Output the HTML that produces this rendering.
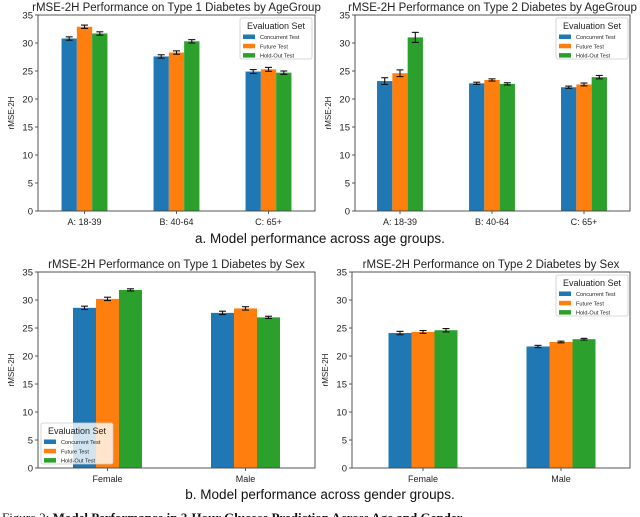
<!DOCTYPE html>
<html><head><meta charset="utf-8"><style>
body{margin:0;background:#fff;width:640px;height:517px;overflow:hidden;font-family:"Liberation Sans","DejaVu Sans",sans-serif}
svg{display:block}
</style></head><body>
<svg id="fig" width="640" height="517" viewBox="0 0 640 517" xmlns="http://www.w3.org/2000/svg">
<text x="320" y="243" text-anchor="middle" font-size="13.5" fill="#111">a. Model performance across age groups.</text>
<text x="320" y="499" text-anchor="middle" font-size="13.5" fill="#111">b. Model performance across gender groups.</text>
<text x="2" y="522" font-family="Liberation Serif,serif" font-size="13" fill="#111">Figure 2: <tspan font-weight="bold">Model Performance in 2-Hour Glucose Prediction Across Age and Gender</tspan></text>
</svg>
<script>
const seriesNames = ["Concurrent Test","Future Test","Hold-Out Test"];
const colors = ["#1f77b4","#ff7f0e","#2ca02c"];
const yTicks = [0,5,10,15,20,25,30,35];

const c1Categories = ["A: 18-39","B: 40-64","C: 65+"];
const c1Concurrent = [30.8,27.6,24.9];
const c1Future = [32.9,28.3,25.3];
const c1Holdout = [31.7,30.3,24.7];
const c1Err = [[0.3,0.3,0.35],[0.3,0.3,0.35],[0.3,0.3,0.3]];

const c2Categories = ["A: 18-39","B: 40-64","C: 65+"];
const c2Concurrent = [23.2,22.8,22.1];
const c2Future = [24.6,23.4,22.6];
const c2Holdout = [31.0,22.7,23.9];
const c2Err = [[0.6,0.2,0.2],[0.6,0.2,0.25],[0.9,0.2,0.3]];

const c3Categories = ["Female","Male"];
const c3Concurrent = [28.6,27.7];
const c3Future = [30.2,28.5];
const c3Holdout = [31.8,26.9];
const c3Err = [[0.3,0.3],[0.3,0.3],[0.2,0.2]];

const c4Categories = ["Female","Male"];
const c4Concurrent = [24.1,21.7];
const c4Future = [24.3,22.5];
const c4Holdout = [24.6,23.0];
const c4Err = [[0.3,0.2],[0.25,0.15],[0.3,0.15]];

const NS="http://www.w3.org/2000/svg";
const svg=document.getElementById('fig');
function mk(tag,attrs,parent){const e=document.createElementNS(NS,tag);for(const k in attrs)e.setAttribute(k,attrs[k]);(parent||svg).appendChild(e);return e;}

function chart(cfg){
  const g=mk('g',{});
  
  
  const {x0,x1,y0,y1}=cfg;
  const ymax=35;
  const yS=v=>y1-(v/ymax)*(y1-y0);
  const n=cfg.cats.length;
  const xS=i=>cfg.c0+i*cfg.step;
  const series=[cfg.s0,cfg.s1,cfg.s2];
  const t=mk('text',{x:(x0+x1)/2,y:y0-4,'text-anchor':'middle','font-size':11.5,fill:'#222'},g);
  t.textContent=cfg.title;
  
  
  yTicks.forEach(v=>{
    const y=yS(v);
    mk('line',{x1:x0-3,x2:x0,y1:y,y2:y,stroke:'#333','stroke-width':0.8},g);
    const tt=mk('text',{x:x0-5,y:y+3.5,'text-anchor':'end','font-size':9.5,fill:'#222'},g);
    tt.textContent=v;
    
    
  });
  const yl=mk('text',{x:0,y:0,'text-anchor':'middle','font-size':8,fill:'#222',transform:`translate(${x0-24},${(y0+y1)/2}) rotate(-90)`},g);
  yl.textContent='rMSE-2H';
  
  
  for(let s=0;s<3;s++){
    for(let i=0;i<n;i++){
      const v=series[s][i];
      const cx=xS(i)+(s-1)*cfg.bw;
      const r=mk('rect',{x:cx-cfg.bw/2,y:yS(v),width:cfg.bw,height:yS(0)-yS(v),fill:colors[s]},g);
      
      
      const e=cfg.err[s][i];
      const eg=mk('g',{stroke:'#111','stroke-width':1.1},g);
      
      
      mk('line',{x1:cx,x2:cx,y1:yS(v-e),y2:yS(v+e)},eg);
      mk('line',{x1:cx-3.5,x2:cx+3.5,y1:yS(v-e),y2:yS(v-e)},eg);
      mk('line',{x1:cx-3.5,x2:cx+3.5,y1:yS(v+e),y2:yS(v+e)},eg);
    }
  }
  cfg.cats.forEach((c,i)=>{
    const x=xS(i);
    mk('line',{x1:x,x2:x,y1:y1,y2:y1+3,stroke:'#333','stroke-width':0.8},g);
    const tt=mk('text',{x:x,y:y1+14,'text-anchor':'middle','font-size':9,fill:'#222'},g);
    tt.textContent=c;
    
    
  });
  mk('rect',{x:x0,y:y0,width:x1-x0,height:y1-y0,fill:'none',stroke:'#444','stroke-width':0.9},g);
  const L=cfg.leg;
  const lg=mk('g',{},g);
  
  
  mk('rect',{x:L[0],y:L[1],width:72,height:41,rx:2,fill:'rgba(255,255,255,0.8)',stroke:'#ccc','stroke-width':0.8},lg);
  const lt=mk('text',{x:L[0]+36,y:L[1]+11,'text-anchor':'middle','font-size':9,fill:'#222'},lg);
  lt.textContent='Evaluation Set';
  
  
  seriesNames.forEach((nm,s)=>{
    const yy=L[1]+19+s*9.3;
    mk('rect',{x:L[0]+3,y:yy-2.5,width:12,height:4.5,fill:colors[s]},lg);
    const et=mk('text',{x:L[0]+20,y:yy+2,'font-size':5.6,fill:'#222'},lg);
    et.textContent=nm;
    
    
  });
}

chart({name:'chart-t1-age',title:'rMSE-2H Performance on Type 1 Diabetes by AgeGroup',x0:38,x1:315,y0:15,y1:211,c0:84.5,step:92,bw:15.3,cats:c1Categories,s0:c1Concurrent,s1:c1Future,s2:c1Holdout,err:c1Err,leg:[240,18]});
chart({name:'chart-t2-age',title:'rMSE-2H Performance on Type 2 Diabetes by AgeGroup',x0:355,x1:630,y0:15,y1:211,c0:400,step:92,bw:15.3,cats:c2Categories,s0:c2Concurrent,s1:c2Future,s2:c2Holdout,err:c2Err,leg:[556,18]});
chart({name:'chart-t1-sex',title:'rMSE-2H Performance on Type 1 Diabetes by Sex',x0:38,x1:315,y0:272,y1:468,c0:107.5,step:138,bw:23,cats:c3Categories,s0:c3Concurrent,s1:c3Future,s2:c3Holdout,err:c3Err,leg:[41,423]});
chart({name:'chart-t2-sex',title:'rMSE-2H Performance on Type 2 Diabetes by Sex',x0:352,x1:630,y0:272,y1:468,c0:423,step:138,bw:23,cats:c4Categories,s0:c4Concurrent,s1:c4Future,s2:c4Holdout,err:c4Err,leg:[556,275]});
</script>
</body></html>
